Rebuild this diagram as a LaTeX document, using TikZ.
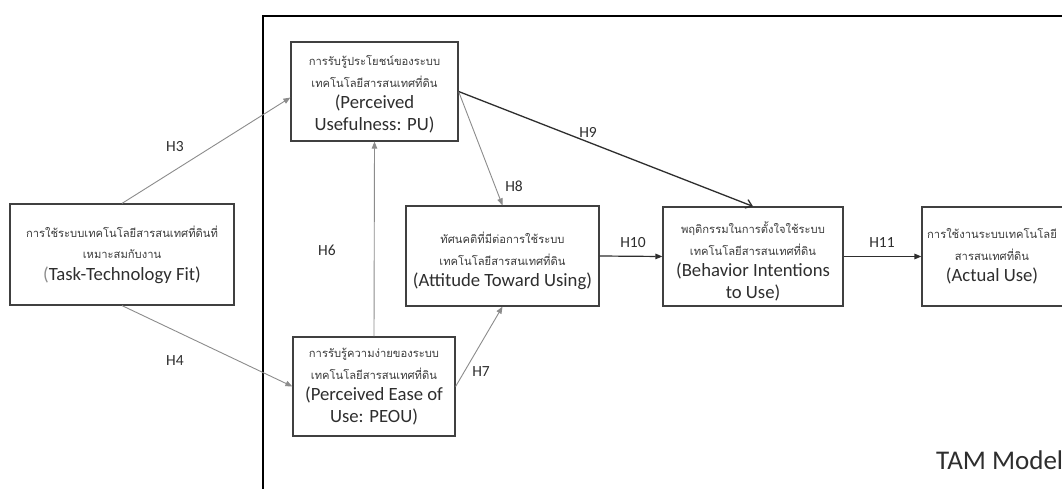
\documentclass[tikz,border=0pt]{standalone}
\usepackage{fontspec}
\setmainfont{Carlito}
\newfontfamily\thai[Script=Thai]{Loma}
\usetikzlibrary{arrows.meta,calc}
\definecolor{boxc}{HTML}{404040}
\definecolor{thinc}{HTML}{8C8C8C}
\definecolor{darkc}{HTML}{2E2E2E}
\definecolor{thaic}{HTML}{3C3C3C}
\newcommand{\thline}[1]{{\thai\fontsize{11.2}{21.5}\selectfont\color{thaic}#1}}
\tikzset{
  box/.style={draw=boxc, line width=1.2pt, inner sep=0pt},
  boxtext/.style={inner sep=0pt, align=center,
    font=\fontsize{18.7}{21.5}\selectfont, text=darkc},
  thinarrow/.style={draw=thinc, line width=0.9pt, -{Triangle[length=7pt,width=5.5pt]}},
  darkarrow/.style={draw=darkc, line width=1.2pt, -{Triangle[length=7pt,width=5.5pt]}},
  openarrow/.style={draw=darkc, line width=1.3pt, -{Straight Barb[length=6pt,width=9pt]}},
  hyp/.style={font=\fontsize{15.5}{17}\selectfont, text=darkc, inner sep=0pt},
}
\begin{document}
\begin{tikzpicture}[x=1pt,y=-1pt]
\useasboundingbox (0,0) rectangle (1062,489);
\clip (0,0) rectangle (1062,489);
\fill[white] (0,0) rectangle (1062,489);

% TAM frame, running off the right and bottom edges
\draw[black, line width=1.3pt] (263,520) -- (263,16) -- (1100,16);
\node[font=\fontsize{27}{30}\selectfont, text=darkc, anchor=base west, inner sep=0pt] (tam) at (936,469) {TAM Model};

% construct boxes
\node[box, minimum width=224pt, minimum height=101pt] (ttf) at (122,254.5) {};
\node[box, minimum width=167pt, minimum height=99pt] (pu) at (374.5,91.5) {};
\node[box, minimum width=162pt, minimum height=99pt] (peou) at (374,386.5) {};
\node[box, minimum width=193pt, minimum height=100pt] (att) at (502.5,256) {};
\node[box, minimum width=180pt, minimum height=99pt] (bi) at (753,256.5) {};
\node[box, minimum width=150pt, minimum height=99pt] (au) at (997,256.5) {};

% construct labels
\node[boxtext] (ttftext) at ($(ttf.center)+(0,0)$)
  {\thline{การใช้ระบบเทคโนโลยีสารสนเทศที่ดินที่}\\ \thline{เหมาะสมกับงาน}\\ {\color{thinc}(}Task-Technology Fit)};
\node[boxtext] (putext) at ($(pu.center)+(0,3)$)
  {\thline{การรับรู้ประโยชน์ของระบบ}\\ \thline{เทคโนโลยีสารสนเทศที่ดิน}\\ (Perceived\\ Usefulness: PU)};
\node[boxtext] (peoutext) at ($(peou.center)+(0,0)$)
  {\thline{การรับรู้ความง่ายของระบบ}\\ \thline{เทคโนโลยีสารสนเทศที่ดิน}\\ (Perceived Ease of\\ Use: PEOU)};
\node[boxtext] (atttext) at ($(att.center)+(0,5)$)
  {\thline{ทัศนคติที่มีต่อการใช้ระบบ}\\ \thline{เทคโนโลยีสารสนเทศที่ดิน}\\ (Attitude Toward Using)};
\node[boxtext] (bitext) at ($(bi.center)+(0,5)$)
  {\thline{พฤติกรรมในการตั้งใจใช้ระบบ}\\ \thline{เทคโนโลยีสารสนเทศที่ดิน}\\ (Behavior Intentions\\ to Use)};
\node[boxtext] (autext) at (992,256.5)
  {\thline{การใช้งานระบบเทคโนโลยี}\\ \thline{สารสนเทศที่ดิน}\\ (Actual Use)};

% hypotheses
\draw[thinarrow] (ttf.north) -- ($(pu.north west)!0.56!(pu.south west)$);
\draw[thinarrow] (ttf.south) -- (peou.west);
\draw[thinarrow] (peou.north) -- (pu.south);
\draw[thinarrow] (peou.east) -- (att.south);
\draw[thinarrow] (pu.east) -- (att.north);
\draw[openarrow] (pu.east) -- (bi.north);
\draw[darkarrow] (att.east) -- (bi.west);
\draw[darkarrow] (bi.east) -- (au.west);

\node[hyp] (h3) at (175,147) {H3};
\node[hyp] (h4) at (175,361) {H4};
\node[hyp] (h6) at (327,250) {H6};
\node[hyp] (h7) at (481,372) {H7};
\node[hyp] (h8) at (514,186) {H8};
\node[hyp] (h9) at (588,132) {H9};
\node[hyp] (h10) at (633,243) {H10};
\node[hyp] (h11) at (882,243) {H11};
\end{tikzpicture}
\end{document}
